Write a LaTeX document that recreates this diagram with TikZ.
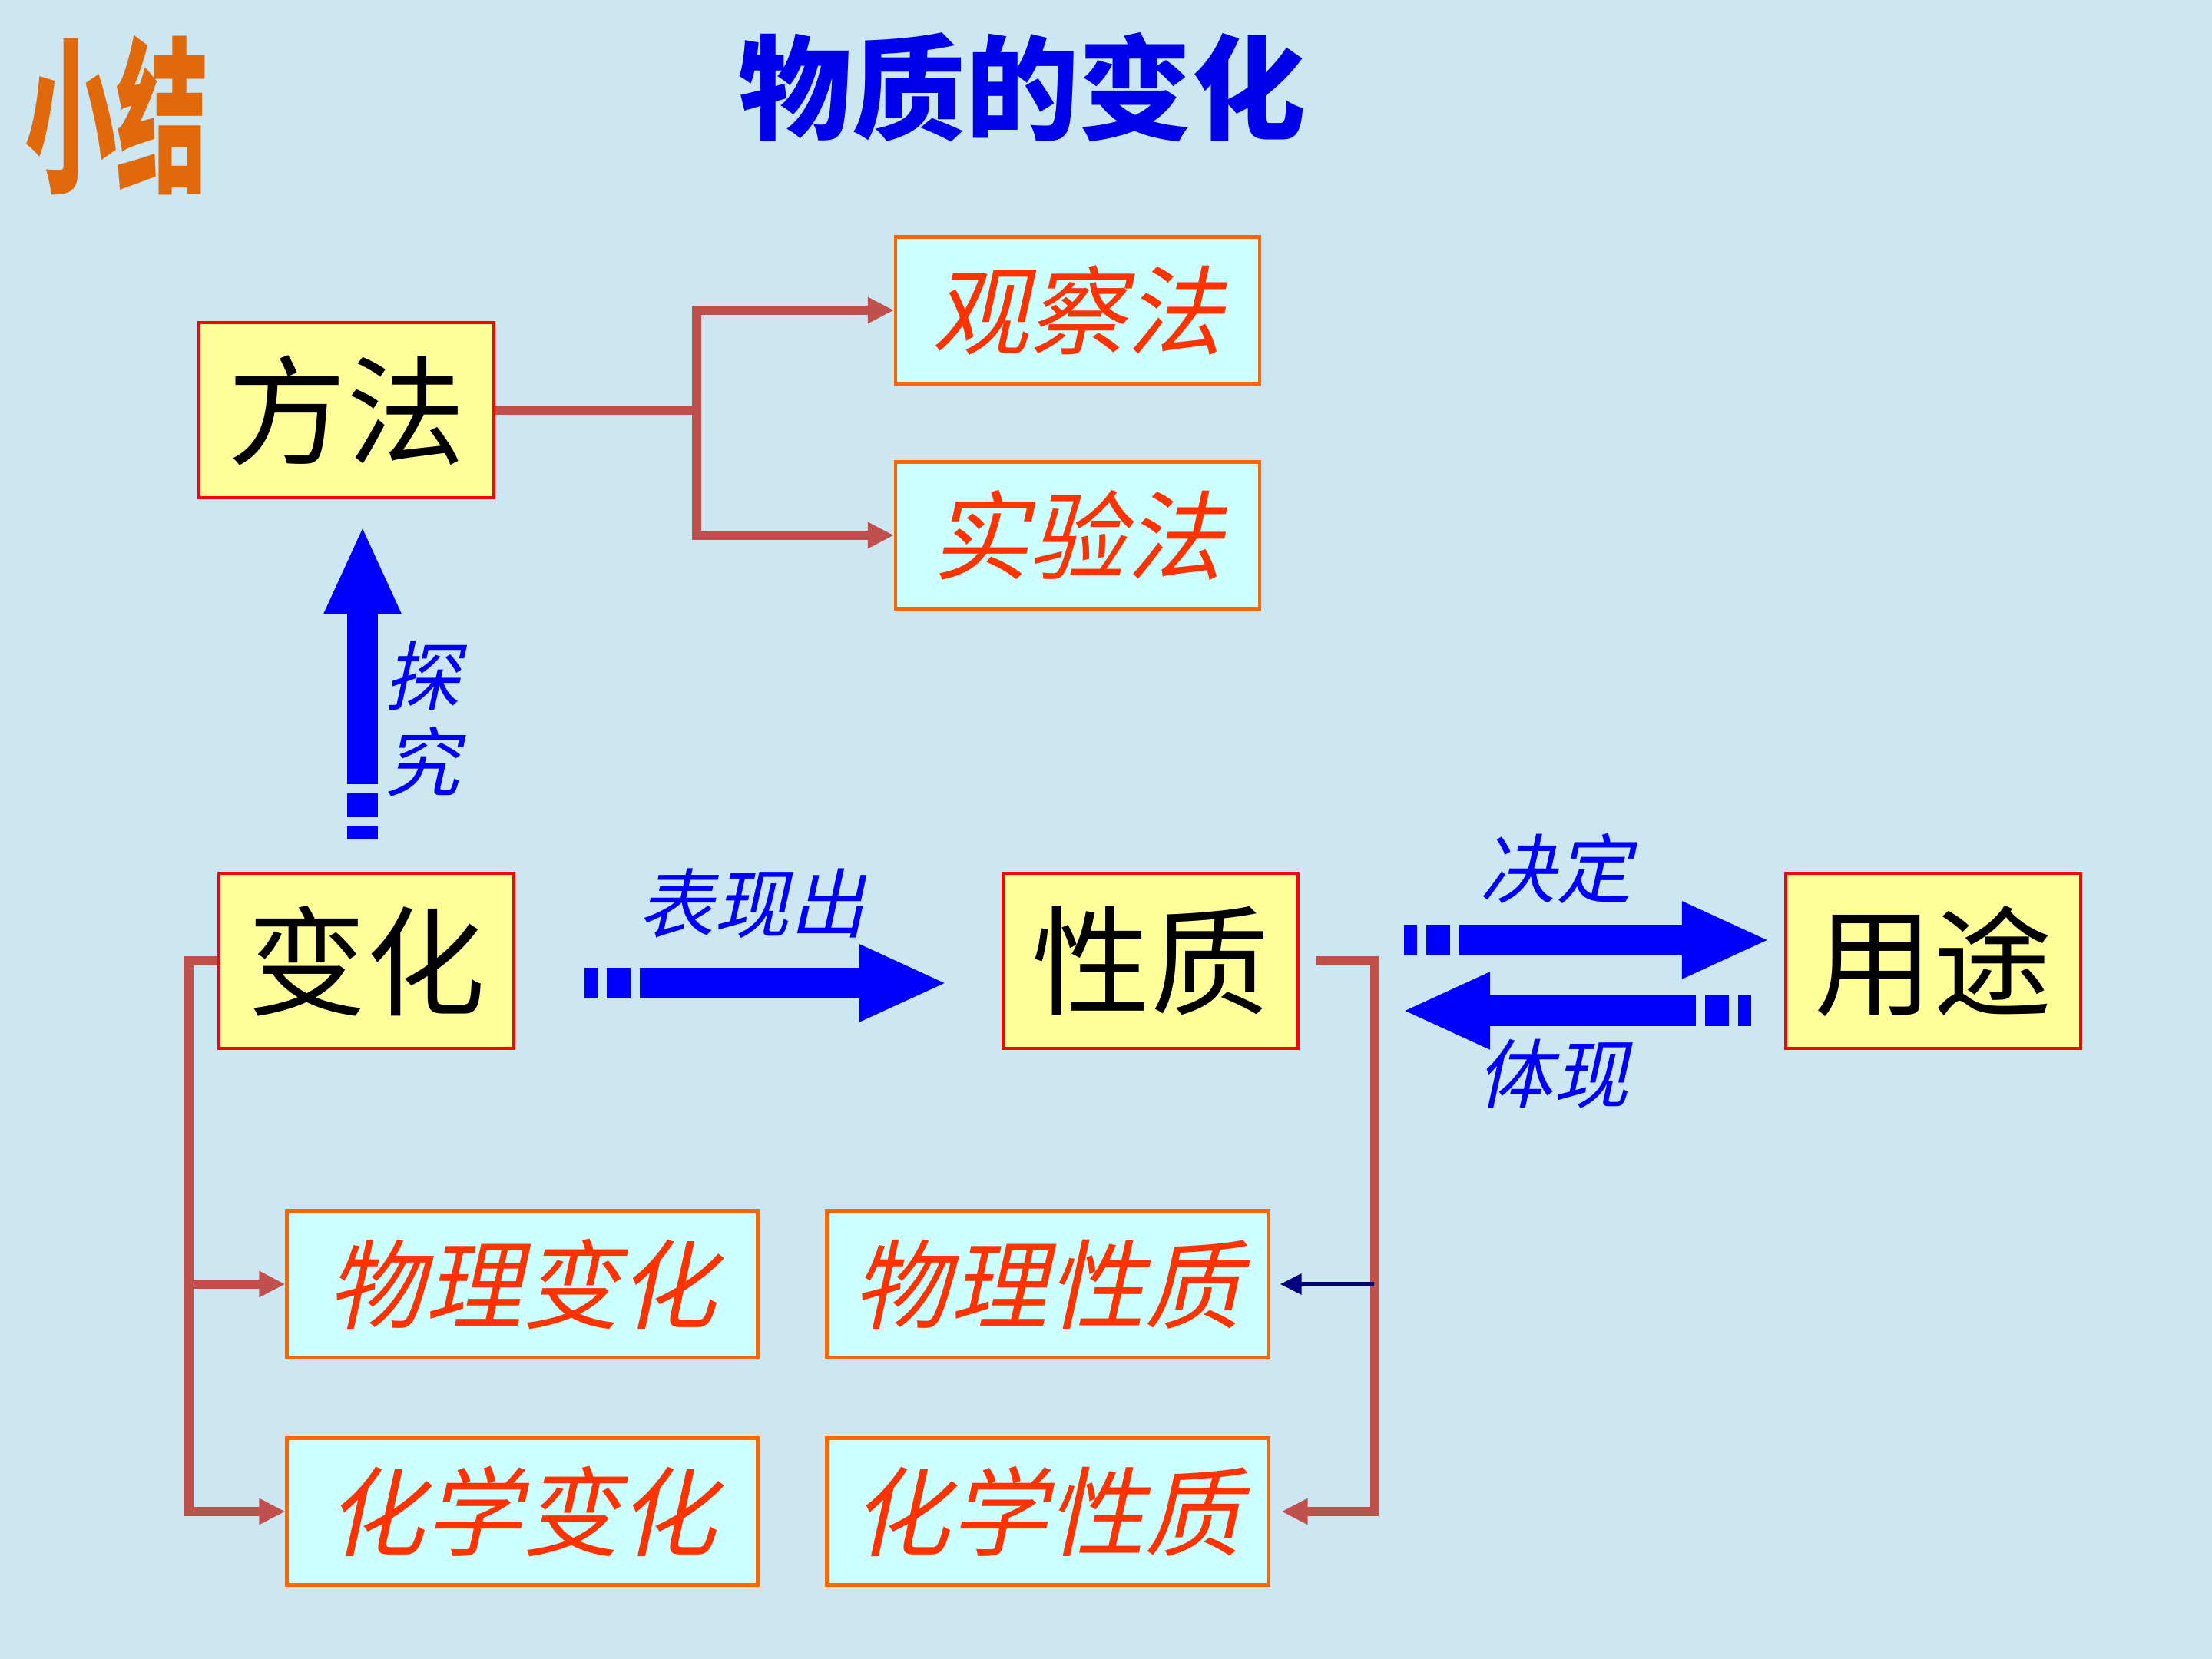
\documentclass[tikz,border=0pt]{standalone}
\usepackage{fontspec}
\usepackage{xcolor}
\usepackage{tikz}
\usetikzlibrary{arrows.meta}
\newfontfamily\cjk{Noto Sans CJK SC}
\newfontfamily\cjkit{Noto Sans CJK SC}[FakeSlant=0.22]
\definecolor{slideblue}{RGB}{205, 231, 242}
\definecolor{titleblue}{RGB}{0, 0, 235}
\definecolor{arrowblue}{RGB}{0, 0, 255}
\definecolor{boxyellow}{RGB}{255, 255, 153}
\definecolor{boxred}{RGB}{255, 0, 0}
\definecolor{boxcyan}{RGB}{204, 255, 255}
\definecolor{boxorange}{RGB}{255, 102, 0}
\definecolor{textorange}{RGB}{255, 51, 0}
\definecolor{linkbrown}{RGB}{192, 80, 77}
\definecolor{linknavy}{RGB}{0, 0, 128}
\definecolor{goldfront}{RGB}{225, 105, 10}

\begin{document}
\begin{tikzpicture}[
	bigbox/.style={draw=boxred, line width=1.2pt, fill=boxyellow, minimum width=3.84cm, minimum height=2.28cm, inner sep=0pt, font=\cjk\fontsize{44}{48}\selectfont},
	smallbox/.style={draw=boxorange, line width=1.2pt, fill=boxcyan, minimum height=1.91cm, inner sep=0pt, text=textorange, font=\cjkit\fontsize{36}{40}\selectfont},
	conn/.style={draw=linkbrown, line width=3.2pt},
	connarrow/.style={conn, -{Triangle[length=0.34cm,width=0.32cm]}},
	navyarrow/.style={draw=linknavy, line width=1.8pt, -{Triangle[length=0.28cm,width=0.26cm]}},
	bigarrow/.style={draw=arrowblue, line width=0.4cm, -{Triangle[length=1.15cm,width=0.92cm]}, dash pattern=on 0.17cm off 0.12cm on 0.31cm off 0.12cm on 30cm},
	bluelabel/.style={text=arrowblue, font=\cjkit\fontsize{28}{32}\selectfont, inner sep=0pt}
]
	\fill[slideblue] (0,0) rectangle (28.8,21.6);

	% heading
	\node[text=goldfront, font=\cjk\bfseries\fontsize{62}{62}\selectfont, xscale=0.55] (xiaojie) at (1.52,20.1) {小结};
	\node[text=titleblue, font=\cjk\bfseries\fontsize{42}{46}\selectfont] (title) at (13.31,20.46) {物质的变化};

	% boxes
	\node[bigbox] (fangfa) at (4.51,16.26) {方法};
	\node[bigbox] (bianhua) at (4.77,9.09) {变化};
	\node[bigbox] (xingzhi) at (14.98,9.09) {性质};
	\node[bigbox] (yongtu) at (25.17,9.09) {用途};
	\node[smallbox, minimum width=4.74cm] (guancha) at (14.03,17.56) {观察法};
	\node[smallbox, minimum width=4.74cm] (shiyan) at (14.03,14.63) {实验法};
	\node[smallbox, minimum width=6.13cm] (wlbh) at (6.80,4.88) {物理变化};
	\node[smallbox, minimum width=6.13cm] (hxbh) at (6.80,1.92) {化学变化};
	\node[smallbox, minimum width=5.75cm] (wlxz) at (13.64,4.88) {物理性质};
	\node[smallbox, minimum width=5.75cm] (hxxz) at (13.64,1.92) {化学性质};

	% brown links
	\coordinate (ffork) at ([xshift=2.62cm]fangfa.east);
	\draw[conn] (fangfa.east) -- (ffork);
	\draw[connarrow] (ffork) |- (guancha.west);
	\draw[connarrow] (ffork) |- (shiyan.west);

	\coordinate (bfork) at ([xshift=-0.37cm]bianhua.west);
	\draw[connarrow] (bianhua.west) -- (bfork) |- (hxbh.west);
	\draw[connarrow] (bfork |- wlbh.west) -- (wlbh.west);

	\coordinate (xfork) at ([xshift=0.97cm]xingzhi.east);
	\draw[connarrow, shorten <=0.22cm, shorten >=0.15cm] (xingzhi.east) -- (xfork) |- (hxxz.east);
	\draw[navyarrow, shorten >=0.13cm] (xfork |- wlxz.east) -- (wlxz.east);

	% blue arrows
	\draw[bigarrow, shorten <=0.42cm, shorten >=0.34cm] ([xshift=-0.05cm]bianhua.north) -- ([xshift=-0.05cm]bianhua.north |- fangfa.south);
	\draw[bigarrow, shorten <=0.9cm, shorten >=0.7cm] ([yshift=-0.29cm]bianhua.east) -- ([yshift=-0.29cm]xingzhi.west);
	\draw[bigarrow, shorten <=1.36cm, shorten >=0.18cm] ([yshift=0.27cm]xingzhi.east) -- ([yshift=0.27cm]yongtu.west);
	\draw[bigarrow, shorten <=0.43cm, shorten >=1.33cm] ([yshift=-0.65cm]yongtu.west) -- ([yshift=-0.65cm]xingzhi.east);

	\node[bluelabel, align=center] (tanjiu) at (5.50,12.24) {探\\究};
	\node[bluelabel] (biaoxian) at (9.79,9.84) {表现出};
	\node[bluelabel] (jueding) at (20.26,10.29) {决定};
	\node[bluelabel] (tixian) at (20.22,7.62) {体现};
\end{tikzpicture}
\end{document}
